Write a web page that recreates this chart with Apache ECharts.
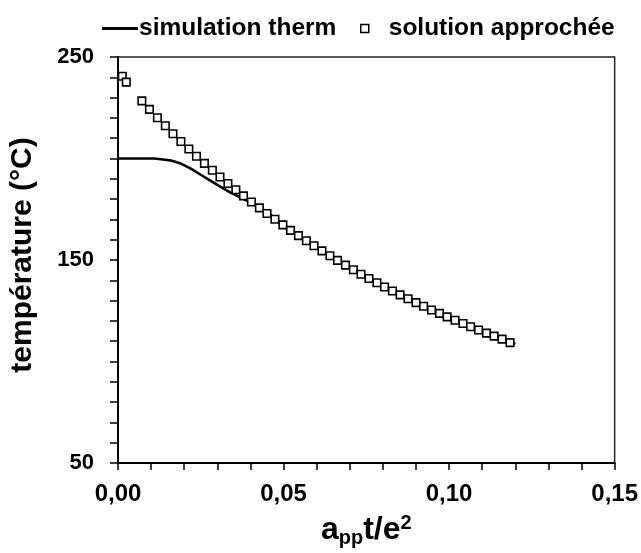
<!DOCTYPE html>
<html>
<head>
<meta charset="utf-8">
<script src="https://cdn.jsdelivr.net/npm/echarts@6/dist/echarts.min.js"></script>
<style>html,body{margin:0;padding:0;background:#fff;}#c{width:641px;height:553px;}</style>
</head>
<body>
<div id="c"></div>
<script>
// simulation therm (solid line)
const simX = [0, 0.011, 0.0115, 0.016, 0.019, 0.022, 0.025, 0.028, 0.031, 0.034, 0.037, 0.040, 0.045, 0.050, 0.060, 0.070, 0.080, 0.090, 0.100, 0.110, 0.120];
const simY = [200, 200, 199.2, 199.0, 197.5, 195.0, 192.0, 189.0, 186.0, 183.2, 180.8, 178.4, 173.8, 167.0, 156.2, 146.1, 137.1, 128.9, 121.9, 115.2, 108.7];

// solution approchée (square markers)
const solX = [0.0013, 0.0025, 0.0072, 0.0095, 0.0119, 0.0143, 0.0166, 0.0190, 0.0214, 0.0237, 0.0261, 0.0285, 0.0308, 0.0332, 0.0356, 0.0379, 0.0403, 0.0427, 0.0450, 0.0474, 0.0498, 0.0521, 0.0545, 0.0569, 0.0592, 0.0616, 0.0640, 0.0663, 0.0687, 0.0711, 0.0734, 0.0758, 0.0782, 0.0805, 0.0829, 0.0852, 0.0876, 0.0900, 0.0923, 0.0947, 0.0971, 0.0994, 0.1018, 0.1042, 0.1065, 0.1089, 0.1113, 0.1136, 0.1160, 0.1184];
const solY = [240.5, 237.6, 228.4, 224.2, 220.1, 216.1, 212.2, 208.4, 204.7, 201.1, 197.6, 194.2, 190.9, 187.7, 184.6, 181.6, 178.6, 175.7, 172.9, 170.1, 167.3, 164.6, 162.0, 159.5, 157.0, 154.5, 152.1, 149.8, 147.5, 145.2, 143.0, 140.9, 138.8, 136.7, 134.7, 132.8, 130.9, 129.0, 127.2, 125.4, 123.7, 122.0, 120.3, 118.7, 117.1, 115.5, 114.0, 112.5, 111.0, 109.3];

const xTickLabels = ['0,00', '0,05', '0,10', '0,15'];
const yTickLabels = ['50', '150', '250'];

const seriesNames = ['simulation therm', 'solution approchée'];
const FONT = 'Liberation Sans, Arial, sans-serif';

const chart = echarts.init(document.getElementById('c'), null, {renderer: 'canvas'});

function xLabel(v) {
  const k = Math.round(v * 100);
  if (k % 5 !== 0) return '';
  return xTickLabels[k / 5] || '';
}
function yLabel(v) {
  const s = String(Math.round(v));
  return yTickLabels.indexOf(s) >= 0 ? s : '';
}

chart.setOption({
  animation: false,
  backgroundColor: '#fff',
  grid: {left: 117, right: 22, top: 57, bottom: 82, show: true, borderColor: '#222', borderWidth: 1.5, backgroundColor: 'transparent'},
  legend: [
    {
      data: [{name: seriesNames[0], icon: 'rect'}],
      left: 102, top: 16, padding: 0,
      itemWidth: 36, itemHeight: 3, itemGap: 2,
      textStyle: {fontFamily: FONT, fontWeight: 'bold', fontSize: 24.5, color: '#000', padding: [0, 0, 0, -4]},
      selectedMode: false
    },
    {
      data: [{name: seriesNames[1], icon: 'rect', itemStyle: {color: '#fff', borderColor: '#000', borderWidth: 1.5}}],
      left: 360, top: 16, padding: 0,
      itemWidth: 8, itemHeight: 8,
      textStyle: {fontFamily: FONT, fontWeight: 'bold', fontSize: 24.5, color: '#000', padding: [0, 0, 0, 15]},
      selectedMode: false
    }
  ],
  xAxis: {
    type: 'value', min: 0, max: 0.15, interval: 0.01,
    name: '{a|a}{s|pp}{a|t/e}{p|2}',
    nameLocation: 'middle', nameGap: 49,
    nameTextStyle: {
      fontFamily: FONT, color: '#000',
      rich: {
        a: {fontFamily: FONT, fontWeight: 'bold', fontSize: 32, color: '#000'},
        s: {fontFamily: FONT, fontWeight: 'bold', fontSize: 20, color: '#000', padding: [16, 0, 0, 0]},
        p: {fontFamily: FONT, fontWeight: 'bold', fontSize: 20, color: '#000', padding: [0, 0, 14, 0]}
      }
    },
    axisLine: {show: true, lineStyle: {color: '#000', width: 2}},
    axisTick: {show: true, inside: false, length: 7, lineStyle: {color: '#000', width: 1.5}},
    axisLabel: {formatter: xLabel, fontFamily: FONT, fontWeight: 'bold', fontSize: 24, color: '#000', margin: 19, showMinLabel: true, showMaxLabel: true},
    splitLine: {show: false}
  },
  yAxis: {
    type: 'value', min: 50, max: 250, interval: 10,
    name: 'température (°C)',
    nameLocation: 'middle', nameGap: 80, nameRotate: 90,
    nameTextStyle: {fontFamily: FONT, fontWeight: 'bold', fontSize: 30, color: '#000', padding: [0, 0, 0, 10]},
    axisLine: {show: true, lineStyle: {color: '#000', width: 2}},
    axisTick: {show: true, inside: false, length: 8, lineStyle: {color: '#000', width: 1.5}},
    axisLabel: {formatter: yLabel, fontFamily: FONT, fontWeight: 'bold', fontSize: 22, color: '#000', margin: 24},
    splitLine: {show: false}
  },
  series: [
    {
      name: seriesNames[0], type: 'line',
      data: simX.map((x, i) => [x, simY[i]]),
      showSymbol: false, symbol: 'none',
      lineStyle: {color: '#000', width: 2.6},
      itemStyle: {color: '#000'},
      z: 2
    },
    {
      name: seriesNames[1], type: 'scatter',
      data: solX.map((x, i) => [x, solY[i]]),
      symbol: 'rect', symbolSize: 7.5,
      itemStyle: {color: '#fff', borderColor: '#000', borderWidth: 1.6, opacity: 1},
      z: 3
    }
  ]
});
</script>
</body>
</html>
